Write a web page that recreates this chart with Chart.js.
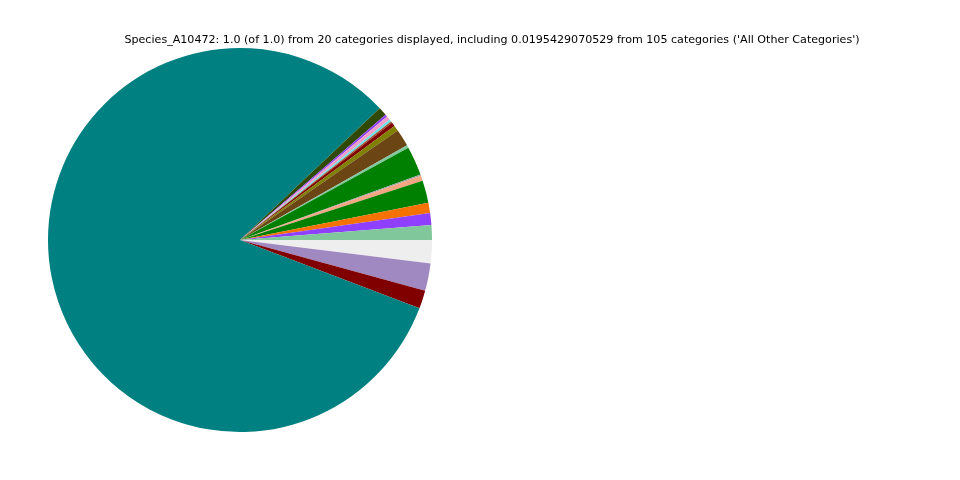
<!DOCTYPE html>
<html>
<head>
<meta charset="utf-8">
<script src="https://cdn.jsdelivr.net/npm/chart.js@4/dist/chart.umd.min.js"></script>
<style>
  html, body { margin: 0; padding: 0; background: #ffffff; }
  #wrap { width: 960px; height: 480px; }
</style>
</head>
<body>
<div id="wrap"><canvas id="speciesPie" width="960" height="480"></canvas></div>
<script>
// slices in matplotlib order (counterclockwise from 3 o'clock)
let categories = ['Cat_01', 'Cat_02', 'Cat_03', 'Cat_04', 'Cat_05', 'Cat_06', 'Cat_07', 'Cat_08', 'Cat_09', 'Cat_10',
    'Cat_11', 'Cat_12', 'Cat_13', 'Cat_14', 'Cat_15', 'Cat_16', 'Cat_17', 'Cat_18', 'Cat_19', 'All Other Categories'];
let shares = [0.0125, 0.0100, 0.0086, 0.0189, 0.0042, 0.0011, 0.0245, 0.0022, 0.0145, 0.0047,
    0.0033, 0.0014, 0.0019, 0.0033, 0.0019, 0.0072, 0.8214, 0.0153, 0.0231, 0.0195];
let colours = ['#80c89c', '#8f3fff', '#f57200', '#008000', '#f4a582', '#a0a0a0', '#008000', '#80c8a0', '#6b4513', '#808000',
    '#800000', '#a0522d', '#6fe0e8', '#f0a0c8', '#9040ff', '#2f4a00', '#008080', '#800000', '#a088c0', '#eeeeee'];

let titleText = "Species_A10472: 1.0 (of 1.0) from 20 categories displayed, including 0.0195429070529 from 105 categories ('All Other Categories')";

// chart.js goes clockwise, so reverse and start at 3 o'clock
let labelsCw = categories.slice().reverse();
let dataCw = shares.slice().reverse();
let coloursCw = colours.slice().reverse();

const figTitle = {
    id: 'figTitle',
    afterDraw(chart) {
        const c = chart.ctx;
        c.save();
        c.font = '11.1px "DejaVu Sans"';
        c.fillStyle = '#000000';
        c.textAlign = 'center';
        c.textBaseline = 'middle';
        c.fillText(titleText, 492, 40);
        c.restore();
    }
};

let speciesPie = new Chart(document.getElementById('speciesPie'), {
    type: 'pie',
    data: {
        labels: labelsCw,
        datasets: [{
            data: dataCw,
            backgroundColor: coloursCw,
            borderWidth: 0,
            hoverOffset: 0
        }]
    },
    options: {
        responsive: false,
        animation: false,
        rotation: 90,
        layout: { padding: { left: 48, top: 48, right: 528, bottom: 48 } },
        plugins: {
            legend: { display: false },
            title: { display: false },
            tooltip: { enabled: false }
        }
    },
    plugins: [figTitle]
});
</script>
</body>
</html>
